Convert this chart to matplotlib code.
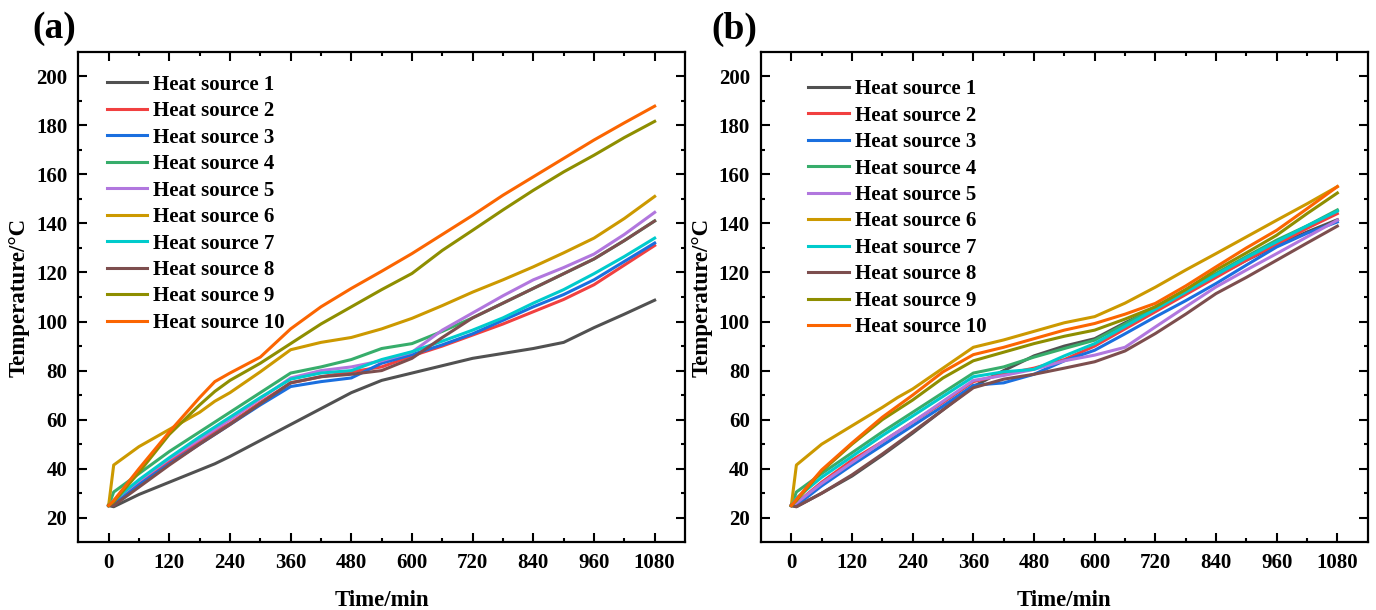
import matplotlib
matplotlib.use('Agg')
import matplotlib.pyplot as plt
import numpy as np

# time axis (min)
time = [0, 10, 60, 120, 180, 210, 240, 300, 360, 420, 480, 540, 600, 660, 720, 780, 840, 900, 960, 1020, 1080]

labels = ['Heat source %d' % i for i in range(1, 11)]
colors = ['#515151', '#F14040', '#1A6FDF', '#37AD6B', '#B177DE',
          '#CC9900', '#00CBCC', '#7D4E4E', '#8E8E00', '#FB6501']

# panel (a)
a_hs1 = [25, 24.5, 29.5, 34.5, 39.5, 42, 45, 51.5, 58, 64.5, 71, 76, 79, 82, 85, 87, 89, 91.5, 97.5, 103, 108.7]
a_hs2 = [25, 25.5, 34, 43, 51, 55, 58.5, 67, 75, 77.5, 79.5, 81.5, 86, 90, 94.5, 99, 104, 109, 115, 123, 131]
a_hs3 = [25, 25.5, 33.5, 42, 50, 54, 58, 66, 73.5, 75.5, 77, 83, 86.5, 90.5, 95, 100.5, 106, 111, 117, 124.5, 132]
a_hs4 = [25, 30.5, 38, 47, 55, 59, 63, 71, 79, 81.5, 84.5, 89, 91, 96, 101.5, 107.5, 113.5, 119.5, 125.5, 133, 141]
a_hs5 = [25, 27, 35, 44, 52, 56, 60, 68.5, 77, 80, 81.5, 84, 87.5, 96.5, 103.5, 110.5, 117, 122, 127.5, 135.5, 144.5]
a_hs6 = [25, 41.5, 49, 56, 63, 67.5, 71, 79.5, 88.5, 91.5, 93.5, 97, 101.3, 106.5, 112, 117, 122.3, 128, 134, 142, 151]
a_hs7 = [25, 27, 35.5, 44.5, 53, 57, 61, 69, 76.5, 79, 80, 84.5, 87.7, 92, 96.5, 101.5, 107.5, 113, 119.5, 126.5, 134]
a_hs8 = [25, 25, 32.5, 41.5, 50, 54, 58, 66.5, 75, 77.5, 78.5, 80, 85, 93.5, 101.5, 107.5, 113.5, 119.5, 125.5, 133, 141]
a_hs9 = [25, 26.5, 38.5, 54, 66, 71.5, 76, 83, 91, 99, 106, 113, 119.6, 129, 137.2, 145.5, 153.5, 161, 167.8, 175, 181.6]
a_hs10 = [25, 27, 40, 55, 69, 75.5, 79, 85.5, 97, 106, 113.5, 120.5, 127.7, 135.5, 143.3, 151.5, 159, 166.5, 174, 181, 187.8]

# panel (b)
b_hs1 = [25, 24.5, 30, 37, 45.5, 50, 54.5, 64, 73.5, 80, 86, 90, 93, 99.5, 105.5, 112, 118.5, 125, 131, 136.5, 141.5]
b_hs2 = [25, 26, 34.5, 43.5, 51, 55, 59, 67, 75.5, 78.5, 81, 84.5, 90, 97, 104, 111, 118, 125, 131.5, 138, 144]
b_hs3 = [25, 25, 33, 41.5, 49.5, 53.5, 57.5, 65.5, 74, 75, 78.5, 84, 88.3, 95, 101.9, 108.5, 115.5, 123, 130.4, 136, 140.6]
b_hs4 = [25, 30.5, 38, 46.5, 55, 59, 63, 71, 79, 81.5, 85.5, 89, 92.4, 99, 106, 113, 119.6, 126.5, 133.2, 139, 145.5]
b_hs5 = [25, 26, 34, 42.5, 51, 55, 59, 67.5, 76, 78, 80.5, 84, 86.3, 89.5, 97.8, 106, 114.1, 121, 127.7, 134.5, 141.3]
b_hs6 = [25, 41.5, 50, 57.5, 65, 69, 72.5, 81, 89.5, 92.5, 96, 99.5, 102, 107.5, 114, 121, 127.7, 134.5, 141.3, 148, 155]
b_hs7 = [25, 28, 36.5, 45, 53.5, 57.5, 61.5, 69.5, 77.5, 79.5, 80.5, 86, 91, 98, 105, 112, 119, 126, 132.5, 139, 145]
b_hs8 = [25, 24.5, 30, 37.5, 46, 50.5, 55, 64, 73, 76.5, 78.5, 81, 83.6, 88, 95.1, 103, 111.4, 118, 125, 132, 138.9]
b_hs9 = [25, 27, 39, 50, 60, 64, 68, 77, 84, 87.5, 91, 94, 96.5, 101, 106, 113, 121, 128, 135.2, 144, 152.4]
b_hs10 = [25, 27.5, 39.5, 50.5, 61, 65.5, 70, 79.5, 86.5, 89.5, 93, 96.5, 99.2, 103, 107.4, 114.5, 122.3, 130, 137.2, 146, 155]

series_a = [a_hs1, a_hs2, a_hs3, a_hs4, a_hs5, a_hs6, a_hs7, a_hs8, a_hs9, a_hs10]
series_b = [b_hs1, b_hs2, b_hs3, b_hs4, b_hs5, b_hs6, b_hs7, b_hs8, b_hs9, b_hs10]

plt.rcParams['font.family'] = ['Liberation Serif', 'DejaVu Serif']
plt.rcParams['font.weight'] = 'bold'

fig = plt.figure(figsize=(13.76, 6.10), dpi=100)
W, H = 1376, 610
ax_a = fig.add_axes([78.3 / W, (H - 542.3) / H, 606.7 / W, 490.6 / H])
ax_b = fig.add_axes([761 / W, (H - 542.3) / H, 606.7 / W, 490.6 / H])


def style(ax, data, leg_xy, tag, tag_x):
    for vals, lab, c in zip(data, labels, colors):
        ax.plot(time, vals, color=c, lw=2.2, label=lab)
    ax.set_xlim(-60, 1140)
    ax.set_ylim(10, 210)
    ax.set_xticks(np.arange(0, 1081, 120))
    ax.set_xticks(np.arange(60, 1081, 120), minor=True)
    ax.set_yticks(np.arange(20, 201, 20))
    ax.set_yticks(np.arange(30, 201, 20), minor=True)
    ax.tick_params(which='both', direction='in', top=True, right=True,
                   labelright=False, labeltop=False, width=1.5)
    ax.tick_params(which='major', length=6.5, labelsize=15)
    ax.tick_params(which='minor', length=3.2)
    ax.tick_params(axis='y', pad=8)
    ax.tick_params(axis='x', pad=8)
    for lab in ax.get_xticklabels() + ax.get_yticklabels():
        lab.set_fontweight('bold')
    for sp in ax.spines.values():
        sp.set_linewidth(1.6)
    ax.set_xlabel('Time/min', fontsize=16.5, fontweight='bold')
    ax.set_ylabel('Temperature/°C', fontsize=16.5, fontweight='bold')
    ax.xaxis.set_label_coords(0.5, -0.098)
    ax.yaxis.set_label_coords(-0.08, 0.5)
    ax.legend(loc='upper left', bbox_to_anchor=leg_xy, frameon=False,
              borderpad=0, borderaxespad=0, handlelength=1.95,
              handletextpad=0.28, labelspacing=0.31,
              prop={'family': 'Liberation Serif', 'weight': 'bold', 'size': 15})
    fig.text(tag_x / W, 1 - 29 / H, tag, fontsize=27, fontweight='bold',
             ha='center', va='center')


style(ax_a, series_a, (0.047, 0.953), '(a)', 54)
style(ax_b, series_b, (0.078, 0.944), '(b)', 734)

fig.savefig('out.png', dpi=100)
